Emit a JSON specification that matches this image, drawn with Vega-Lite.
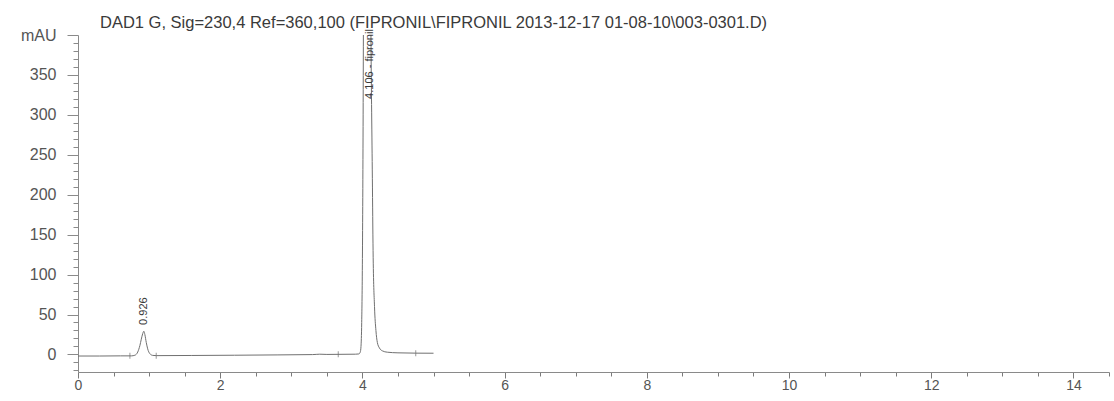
{
  "$schema": "https://vega.github.io/schema/vega-lite/v6.json",
  "width": 1031,
  "height": 337,
  "autosize": {"type": "none"},
  "padding": {"left": 78, "top": 35, "right": 5, "bottom": 29},
  "background": "white",
  "config": {"view": {"stroke": null}, "font": "Liberation Sans"},
  "title": {
    "text": "DAD1 G, Sig=230,4 Ref=360,100 (FIPRONIL\\FIPRONIL 2013-12-17 01-08-10\\003-0301.D)",
    "anchor": "start",
    "frame": "group",
    "dx": 22,
    "dy": 19,
    "offset": 15,
    "font": "Liberation Sans",
    "fontSize": 16.5,
    "fontWeight": "normal",
    "color": "#3a3a3a"
  },
  "datasets": {
    "trace": [
      {"t": 0.0, "v": -2.0}, {"t": 0.3, "v": -2.0}, {"t": 0.6, "v": -1.8}, {"t": 0.75, "v": -1.8},
      {"t": 0.8, "v": -1.0}, {"t": 0.84, "v": 3}, {"t": 0.87, "v": 11}, {"t": 0.89, "v": 19},
      {"t": 0.91, "v": 26}, {"t": 0.926, "v": 29}, {"t": 0.94, "v": 25}, {"t": 0.96, "v": 15},
      {"t": 0.98, "v": 7}, {"t": 1.01, "v": 1}, {"t": 1.05, "v": -1.2}, {"t": 1.1, "v": -1.5},
      {"t": 1.6, "v": -1.3}, {"t": 2.2, "v": -1.0}, {"t": 2.8, "v": -0.6}, {"t": 3.3, "v": -0.2},
      {"t": 3.4, "v": 0.3}, {"t": 3.5, "v": 0.0}, {"t": 3.9, "v": 0.3}, {"t": 3.95, "v": 0.6},
      {"t": 3.97, "v": 3}, {"t": 3.98, "v": 10}, {"t": 3.99, "v": 40}, {"t": 4.0, "v": 120},
      {"t": 4.01, "v": 300}, {"t": 4.02, "v": 600}, {"t": 4.04, "v": 1100}, {"t": 4.06, "v": 1400},
      {"t": 4.08, "v": 1200}, {"t": 4.1, "v": 700}, {"t": 4.12, "v": 400}, {"t": 4.14, "v": 220},
      {"t": 4.15, "v": 130}, {"t": 4.17, "v": 60}, {"t": 4.19, "v": 30}, {"t": 4.21, "v": 15},
      {"t": 4.24, "v": 8}, {"t": 4.28, "v": 4.5}, {"t": 4.35, "v": 2.8}, {"t": 4.5, "v": 2.0},
      {"t": 4.75, "v": 1.6}, {"t": 5.0, "v": 1.5}
    ],
    "labels": [
      {"t": 0.926, "v": 37, "label": "0.926"},
      {"t": 4.106, "v": 320, "label": "4.106 - fipronil"}
    ],
    "marks": [
      {"t": 0.73, "v": -1.8}, {"t": 1.1, "v": -1.5}, {"t": 3.66, "v": 0.1}, {"t": 4.75, "v": 1.6}
    ]
  },
  "layer": [
    {
      "data": {"name": "trace"},
      "mark": {"type": "line", "color": "#707070", "strokeWidth": 1, "clip": true, "interpolate": "monotone"},
      "encoding": {
        "x": {
          "field": "t", "type": "quantitative",
          "scale": {"domain": [0, 14.5], "nice": false, "zero": false},
          "axis": {
            "title": null,
            "values": [0,0.5,1,1.5,2,2.5,3,3.5,4,4.5,5,5.5,6,6.5,7,7.5,8,8.5,9,9.5,10,10.5,11,11.5,12,12.5,13,13.5,14,14.5],
            "tickCount": 200,
            "labelExpr": "datum.value % 2 === 0 ? format(datum.value, 'd') : ''",
            "labelOverlap": false,
            "grid": false,
            "domainColor": "#8a8a8a",
            "tickColor": "#7a7a7a",
            "tickSize": {"condition": {"test": "datum.value % 2 === 0", "value": 6}, "value": 4},
            "labelFont": "Liberation Sans",
            "labelFontSize": 14,
            "labelColor": "#555555",
            "labelPadding": 0,
            "labelFlush": false
          }
        },
        "y": {
          "field": "v", "type": "quantitative",
          "scale": {"domain": [-22, 400], "nice": false, "zero": false},
          "axis": {
            "title": null,
            "values": [-20,-10,0,10,20,30,40,50,60,70,80,90,100,110,120,130,140,150,160,170,180,190,200,210,220,230,240,250,260,270,280,290,300,310,320,330,340,350,360,370,380,390,400],
            "tickCount": 200,
            "labelExpr": "datum.value === 400 ? 'mAU' : (datum.value % 50 === 0 && datum.value >= 0 ? datum.label : '')",
            "labelOverlap": false,
            "grid": false,
            "domainColor": "#8a8a8a",
            "tickColor": "#8a8a8a",
            "tickSize": {"condition": {"test": "datum.value % 50 === 0", "value": 11}, "value": 5},
            "labelFont": "Liberation Sans",
            "labelFontSize": 16,
            "labelColor": "#555555",
            "labelPadding": 11,
            "labelFlush": false
          }
        }
      }
    },
    {
      "data": {"name": "marks"},
      "mark": {"type": "tick", "orient": "vertical", "color": "#6e6e6e", "size": 6, "thickness": 1},
      "encoding": {
        "x": {"field": "t", "type": "quantitative"},
        "y": {"field": "v", "type": "quantitative"}
      }
    },
    {
      "data": {"name": "labels"},
      "mark": {"type": "text", "angle": 270, "align": "left", "baseline": "middle", "font": "Liberation Sans Narrow, Liberation Sans, sans-serif", "fontSize": 11, "color": "#3a3a3a", "clip": false},
      "encoding": {
        "x": {"field": "t", "type": "quantitative"},
        "y": {"field": "v", "type": "quantitative"},
        "text": {"field": "label"}
      }
    }
  ]
}
